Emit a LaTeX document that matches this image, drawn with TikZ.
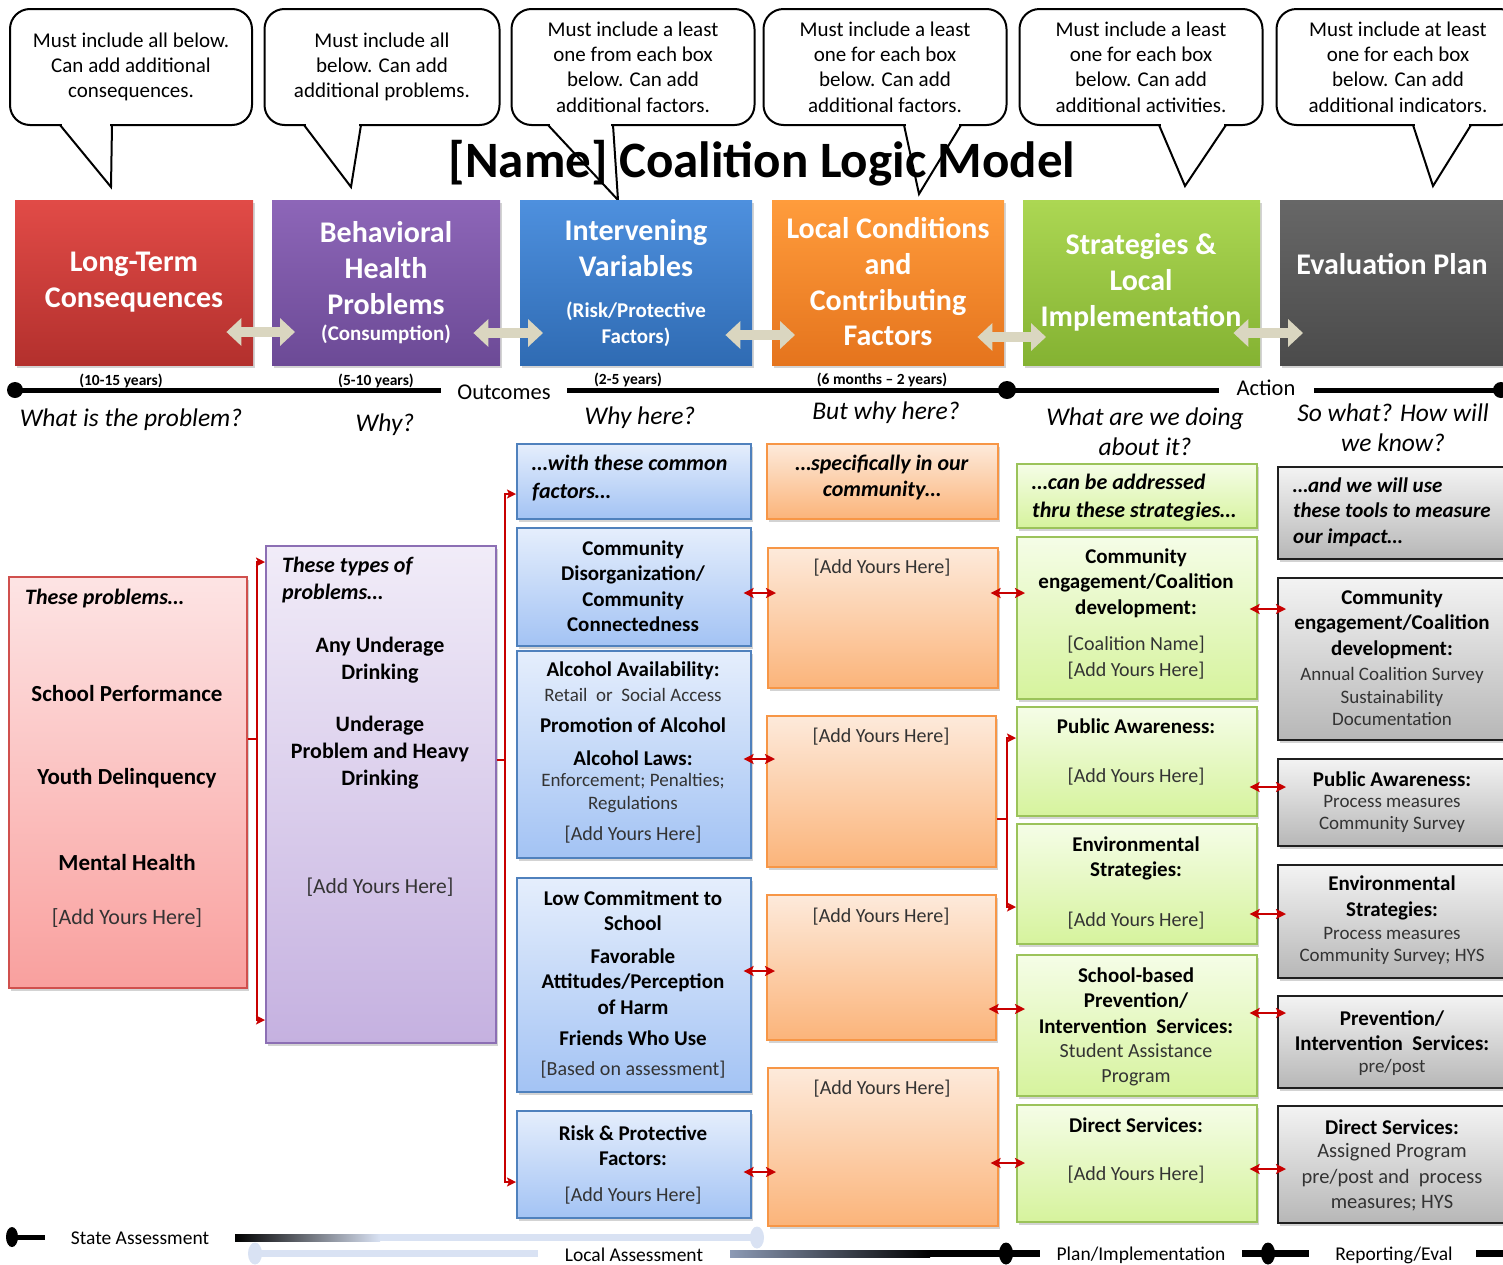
\documentclass[tikz,border=0pt]{standalone}
\usepackage{fontspec}
\setmainfont{Carlito}
\usetikzlibrary{arrows.meta,shadows}

\definecolor{hRedT}{HTML}{E14B47}\definecolor{hRedB}{HTML}{B3302D}
\definecolor{hPurT}{HTML}{8D66B8}\definecolor{hPurB}{HTML}{6C4A96}
\definecolor{hBluT}{HTML}{4E90DE}\definecolor{hBluB}{HTML}{2F6BB3}
\definecolor{hOrnT}{HTML}{FF9C3C}\definecolor{hOrnB}{HTML}{E5741D}
\definecolor{hGrnT}{HTML}{ACD753}\definecolor{hGrnB}{HTML}{84B232}
\definecolor{hGryT}{HTML}{676767}\definecolor{hGryB}{HTML}{4B4B4B}
\definecolor{cRedT}{HTML}{FDE4E4}\definecolor{cRedB}{HTML}{F9A09E}\definecolor{cRedL}{HTML}{D0504D}
\definecolor{cPurT}{HTML}{F1ECF8}\definecolor{cPurB}{HTML}{C5B1E0}\definecolor{cPurL}{HTML}{8C6FB4}
\definecolor{cBluT}{HTML}{E5EEFC}\definecolor{cBluB}{HTML}{A3C3F4}\definecolor{cBluL}{HTML}{4F81BD}
\definecolor{cOrnT}{HTML}{FDEADB}\definecolor{cOrnB}{HTML}{FBB47A}\definecolor{cOrnL}{HTML}{F79646}
\definecolor{cGrnT}{HTML}{F5FDE7}\definecolor{cGrnB}{HTML}{D6F39D}\definecolor{cGrnL}{HTML}{9BC35A}
\definecolor{cGryT}{HTML}{F3F3F3}\definecolor{cGryB}{HTML}{B7B7B7}\definecolor{cGryL}{HTML}{1F1F1F}
\definecolor{arrRed}{HTML}{C80000}
\definecolor{arrBeige}{HTML}{DAD6C0}
\definecolor{barLt}{HTML}{D9E2F3}
\definecolor{barMd}{HTML}{8C9AB5}

\tikzset{
  callout/.style={draw=black, line width=2, fill=white, rounded corners=20,
    minimum width=242, minimum height=116, align=center, inner sep=0,
    font=\fontsize{21}{25.3}\selectfont},
  calltail/.style={draw=black, line width=2, line join=miter},
  shadowed/.style={drop shadow={shadow xshift=2pt, shadow yshift=-3pt, opacity=.35}},
  hdrbox/.style={anchor=north west, minimum height=165, inner sep=0, shadowed},
  hdrtxt/.style={text=white, font=\fontsize{30}{36}\selectfont\bfseries, align=center, inner sep=0},
  hdrsub/.style={text=white, font=\fontsize{21}{26}\selectfont\bfseries, align=center, inner sep=0},
  beigearr/.style={draw=arrBeige, line width=10,
    {Triangle[length=15pt,width=27pt]}-{Triangle[length=15pt,width=27pt]},
    shorten <=-27pt, shorten >=-23pt, shadowed},
  tline/.style={draw=black, line width=5},
  yrtxt/.style={font=\fontsize{15.5}{18}\selectfont\bfseries, inner sep=0},
  linetxt/.style={font=\fontsize{22.5}{25}\selectfont, inner sep=0},
  qtxt/.style={font=\fontsize{25.5}{30}\selectfont\itshape, align=center, inner sep=0},
  colbox/.style={anchor=north west, inner sep=0, line width=1.6, shadowed},
  redcol/.style={colbox, draw=cRedL, top color=cRedT, bottom color=cRedB},
  purcol/.style={colbox, draw=cPurL, top color=cPurT, bottom color=cPurB},
  blucol/.style={colbox, draw=cBluL, top color=cBluT, bottom color=cBluB},
  orncol/.style={colbox, draw=cOrnL, top color=cOrnT, bottom color=cOrnB},
  grncol/.style={colbox, draw=cGrnL, top color=cGrnT, bottom color=cGrnB},
  grycol/.style={colbox, draw=cGryL, top color=cGryT, bottom color=cGryB},
  tb/.style={font=\fontsize{21}{25.5}\selectfont\bfseries, align=center, inner sep=0},
  tr/.style={font=\fontsize{20}{25.5}\selectfont, text=black!80, align=center, inner sep=0},
  ts/.style={font=\fontsize{19}{22.5}\selectfont, text=black!80, align=center, inner sep=0},
  ti/.style={font=\fontsize{22}{27}\selectfont\bfseries\itshape, align=left, inner sep=0},
  tbl/.style={font=\fontsize{23}{28}\selectfont\bfseries, align=center, inner sep=0},
  trl/.style={font=\fontsize{22}{27}\selectfont, text=black!80, align=center, inner sep=0},
  tbp/.style={font=\fontsize{22}{27}\selectfont\bfseries, align=center, inner sep=0},
  redline/.style={draw=arrRed, line width=2.8},
  redboth/.style={redline, {Stealth[length=10pt,width=10pt,inset=2pt]}-{Stealth[length=10pt,width=10pt,inset=2pt]},
    shorten <=-8pt, shorten >=-9pt},
  redbrk/.style={redline, {Stealth[length=9pt,width=9pt,inset=2pt]}-{Stealth[length=9pt,width=9pt,inset=2pt]}},
  btxt/.style={font=\fontsize{19.5}{22}\selectfont, inner sep=0}
}

\begin{document}
\begin{tikzpicture}[x=1pt,y=-1pt]
\useasboundingbox (0,0) rectangle (1503,1264);

% title
\node[font=\fontsize{51}{58}\selectfont\bfseries, inner sep=0] (title) at (762,163) {[Name] Coalition Logic Model};

% callouts
\node[callout] (c1) at (131,67) {Must include all below.\\Can add additional\\consequences.};
\node[callout, minimum width=235] (c2) at (382,67) {Must include all\\below. Can add\\additional problems.};
\node[callout, minimum width=243] (c3) at (633,67) {Must include a least\\one from each box\\below. Can add\\additional factors.};
\node[callout, minimum width=243] (c4) at (885,67) {Must include a least\\one for each box\\below. Can add\\additional factors.};
\node[callout, minimum width=243] (c5) at (1141,67) {Must include a least\\one for each box\\below. Can add\\additional activities.};
\node[callout, minimum width=243] (c6) at (1398,67) {Must include at least\\one for each box\\below. Can add\\additional indicators.};
\draw[white, line width=3] (62,125) -- (110,125);
\draw[calltail] (60,125) -- (111,187) -- (112,125);
\draw[white, line width=3] (306,125) -- (359,125);
\draw[calltail] (304,125) -- (351,187) -- (361,125);
\draw[white, line width=3] (550,125) -- (611,125);
\draw[calltail] (548,125) -- (618,200) -- (613,125);
\draw[white, line width=3] (906,125) -- (959,125);
\draw[calltail] (904,125) -- (919,194) -- (961,125);
\draw[white, line width=3] (1161,125) -- (1224,125);
\draw[calltail] (1159,125) -- (1185,186) -- (1226,125);
\draw[white, line width=3] (1415,125) -- (1469,125);
\draw[calltail] (1413,125) -- (1433,186) -- (1471,125);

% header boxes
\node[hdrbox, minimum width=238, top color=hRedT, bottom color=hRedB] (h1) at (15,200) {};
\node[hdrbox, minimum width=228, top color=hPurT, bottom color=hPurB] (h2) at (272,200) {};
\node[hdrbox, minimum width=232, top color=hBluT, bottom color=hBluB] (h3) at (520,200) {};
\node[hdrbox, minimum width=232, top color=hOrnT, bottom color=hOrnB] (h4) at (772,200) {};
\node[hdrbox, minimum width=237, top color=hGrnT, bottom color=hGrnB] (h5) at (1023,200) {};
\node[hdrbox, minimum width=226, top color=hGryT, bottom color=hGryB] (h6) at (1280,200) {};
\node[hdrtxt] (h1t) at (134,282) {Long-Term\\Consequences};
\node[hdrtxt] (h2t) at (386,268) {Behavioral\\Health\\Problems};
\node[hdrsub] (h2s) at (386,334) {(Consumption)};
\node[hdrtxt] (h3t) at (636,248) {Intervening\\Variables};
\node[hdrsub] (h3s) at (636,324) {(Risk/Protective\\Factors)};
\node[hdrtxt, font=\fontsize{30}{35.7}\selectfont\bfseries] (h4t) at (888,282) {Local Conditions\\and\\Contributing\\Factors};
\node[hdrtxt] (h5t) at (1141,282) {Strategies \&\\Local\\Implementation};
\node[hdrtxt] (h6t) at (1392,264) {Evaluation Plan};
\draw[beigearr] (h1.east |- 0,332) -- (h2.west |- 0,332);
\draw[beigearr] (h2.east |- 0,333) -- (h3.west |- 0,333);
\draw[beigearr] (h3.east |- 0,335) -- (h4.west |- 0,335);
\draw[beigearr] (h4.east |- 0,337) -- (h5.west |- 0,337);
\draw[beigearr] (h5.east |- 0,333) -- (h6.west |- 0,333);

% timeline
\draw[tline] (15,390) -- (441,390);
\draw[tline] (567,390) -- (1219,390);
\draw[tline] (1314,390) -- (1503,390);
\fill (15,390) circle[radius=8pt];
\fill (1007,390) circle[radius=9pt];
\fill (1501,390) circle[radius=8pt];
\node[linetxt] (outc) at (504,392) {Outcomes};
\node[linetxt] (actn) at (1266,388) {Action};
\node[yrtxt] (yr1) at (121,381) {(10-15 years)};
\node[yrtxt] (yr2) at (376,381) {(5-10 years)};
\node[yrtxt] (yr3) at (628,380) {(2-5 years)};
\node[yrtxt] (yr4) at (882,380) {(6 months -- 2 years)};
\node[qtxt] (q1) at (131,420) {What is the problem?};
\node[qtxt] (q2) at (385,425) {Why?};
\node[qtxt] (q3) at (640,418) {Why here?};
\node[qtxt] (q4) at (886,413) {But why here?};
\node[qtxt] (q5) at (1145,432) {What are we doing\\about it?};
\node[qtxt] (q6) at (1393,428) {So what? How will\\we know?};

% consequences column
\node[redcol, minimum width=238, minimum height=411] (lt) at (8,576) {};
\node[ti] (lth) at (25,598) [anchor=west] {These problems…};
\node[tbl] (lt1) at (127,694) {School Performance};
\node[tbl] (lt2) at (127,778) {Youth Delinquency};
\node[tbl] (lt3) at (127,862) {Mental Health};
\node[trl] (lt4) at (127,918) {[Add Yours Here]};

% problems column
\node[purcol, minimum width=230, minimum height=497] (bh) at (265,545) {};
\node[ti, anchor=west] (bhh) at (282,580) {These types of\\problems…};
\node[tbp] (bh1) at (380,660) {Any Underage\\Drinking};
\node[tbp] (bh2) at (380,753) {Underage\\Problem and Heavy\\Drinking};
\node[trl, font=\fontsize{21.5}{27}\selectfont] (bh3) at (380,887) {[Add Yours Here]};

% intervening variables column
\node[blucol, minimum width=234, minimum height=75] (b0) at (516,443) {};
\node[ti, anchor=west, font=\fontsize{22}{28}\selectfont\bfseries\itshape] (b0t) at (532,478) {…with these common\\factors…};
\node[blucol, minimum width=234, minimum height=118] (b1) at (516,527) {};
\node[tb] (b1t) at (633,586) {Community\\Disorganization/\\Community\\Connectedness};
\node[blucol, minimum width=234, minimum height=207] (b2) at (516,650) {};
\node[tb] (b2a) at (633,671) {Alcohol Availability:};
\node[ts] (b2b) at (633,695) {Retail~~or~~Social Access};
\node[tb] (b2c) at (633,725) {Promotion of Alcohol};
\node[tb] (b2d) at (633,758) {Alcohol Laws:};
\node[ts] (b2e) at (633,793) {Enforcement; Penalties;\\Regulations};
\node[tr] (b2f) at (633,835) {[Add Yours Here]};
\node[blucol, minimum width=234, minimum height=214] (b3) at (516,877) {};
\node[tb] (b3a) at (633,910.5) {Low Commitment to\\School};
\node[tb] (b3b) at (633,981.5) {Favorable\\Attitudes/Perception\\of Harm};
\node[tb] (b3c) at (633,1038) {Friends Who Use};
\node[tr] (b3d) at (633,1070) {[Based on assessment]};
\node[blucol, minimum width=234, minimum height=107] (b4) at (516,1110) {};
\node[tb] (b4a) at (633,1145.5) {Risk \& Protective\\Factors:};
\node[tr] (b4b) at (633,1196) {[Add Yours Here]};

% local conditions column
\node[orncol, minimum width=231, minimum height=75] (o0) at (766,443) {};
\node[ti, align=center, font=\fontsize{22}{26}\selectfont\bfseries\itshape] (o0t) at (882,477) {…specifically in our\\community…};
\node[orncol, minimum width=230, minimum height=140] (o1) at (767,547) {};
\node[tr] (o1t) at (882,568) {[Add Yours Here]};
\node[orncol, minimum width=229, minimum height=151] (o2) at (766,715) {};
\node[tr] (o2t) at (881,737) {[Add Yours Here]};
\node[orncol, minimum width=229, minimum height=145] (o3) at (766,894) {};
\node[tr] (o3t) at (881,917) {[Add Yours Here]};
\node[orncol, minimum width=230, minimum height=158] (o4) at (767,1067) {};
\node[tr] (o4t) at (882,1089) {[Add Yours Here]};

% strategies column
\node[grncol, minimum width=240, minimum height=64] (g0) at (1016,463) {};
\node[ti, anchor=west, font=\fontsize{22}{28}\selectfont\bfseries\itshape] (g0t) at (1032,498) {…can be addressed\\thru these strategies…};
\node[grncol, minimum width=240, minimum height=162] (g1) at (1016,536) {};
\node[tb] (g1a) at (1136,583) {Community\\engagement/Coalition\\development:};
\node[tr] (g1b) at (1136,657.5) {{[Coalition Name]}\\{[Add Yours Here]}};
\node[grncol, minimum width=240, minimum height=109] (g2) at (1016,706) {};
\node[tb] (g2a) at (1136,726) {Public Awareness:};
\node[tr] (g2b) at (1136,777) {[Add Yours Here]};
\node[grncol, minimum width=240, minimum height=120] (g3) at (1016,823) {};
\node[tb] (g3a) at (1136,858.5) {Environmental\\Strategies:};
\node[tr] (g3b) at (1136,921) {[Add Yours Here]};
\node[grncol, minimum width=240, minimum height=141] (g4) at (1016,954) {};
\node[tb] (g4a) at (1136,1000.5) {School-based\\Prevention/\\Intervention\ \ Services:};
\node[tr, font=\fontsize{20}{25}\selectfont] (g4b) at (1136,1064.5) {Student Assistance\\Program};
\node[grncol, minimum width=240, minimum height=117] (g5) at (1016,1104) {};
\node[tb] (g5a) at (1136,1125) {Direct Services:};
\node[tr] (g5b) at (1136,1175) {[Add Yours Here]};

% evaluation column
\node[grycol, minimum width=232, minimum height=92] (e0) at (1277,466) {};
\node[ti, anchor=west, font=\fontsize{21}{25.5}\selectfont\bfseries\itshape] (e0t) at (1293,512) {…and we will use\\these tools to measure\\our impact…};
\node[grycol, minimum width=232, minimum height=162] (e1) at (1277,577) {};
\node[tb] (e1a) at (1392,624) {Community\\engagement/Coalition\\development:};
\node[ts] (e1b) at (1392,696.5) {Annual Coalition Survey\\Sustainability\\Documentation};
\node[grycol, minimum width=232, minimum height=87] (e2) at (1277,758) {};
\node[tb] (e2a) at (1392,779) {Public Awareness:};
\node[ts] (e2b) at (1392,814) {Process measures\\Community Survey};
\node[grycol, minimum width=232, minimum height=113] (e3) at (1277,864) {};
\node[tb] (e3a) at (1392,898) {Environmental\\Strategies:};
\node[ts] (e3b) at (1392,946) {Process measures\\Community Survey; HYS};
\node[grycol, minimum width=232, minimum height=92] (e4) at (1277,995) {};
\node[tb] (e4a) at (1392,1030.5) {Prevention/\\Intervention\ \ Services:};
\node[ts] (e4b) at (1392,1067) {pre/post};
\node[grycol, minimum width=232, minimum height=117] (e5) at (1277,1105) {};
\node[tb] (e5a) at (1392,1127) {Direct Services:};
\node[tr, font=\fontsize{20.5}{25.5}\selectfont] (e5b) at (1392,1177.5) {Assigned Program\\pre/post and\ \ process\\measures; HYS};

% brackets
\coordinate (k1) at (257,739);
\coordinate (k2) at (505,760);
\coordinate (k3) at (1007,819);
\draw[redline] (lt.east |- k1) -- (k1);
\draw[redbrk] (bh.west |- 0,562) -| (k1) |- (bh.west |- 0,1020);
\draw[redline] (bh.east |- k2) -- (k2);
\draw[redbrk] (b0.west |- 0,494) -| (k2) |- (b4.west |- 0,1182);
\draw[redline] (o2.east |- k3) -- (k3);
\draw[redbrk] (g2.west |- 0,738) -| (k3) |- (g3.west |- 0,907);

% red links
\draw[redboth] (b1.east |- 0,593) -- (o1.west |- 0,593);
\draw[redboth] (b2.east |- 0,759) -- (o2.west |- 0,759);
\draw[redboth] (b3.east |- 0,971) -- (o3.west |- 0,971);
\draw[redboth] (b4.east |- 0,1172) -- (o4.west |- 0,1172);
\draw[redboth] (o1.east |- 0,593) -- (g1.west |- 0,593);
\draw[redboth] (o3.east |- 0,1009) -- (g4.west |- 0,1009);
\draw[redboth] (o4.east |- 0,1163) -- (g5.west |- 0,1163);
\draw[redboth] (g1.east |- 0,609) -- (e1.west |- 0,609);
\draw[redboth] (g2.east |- 0,787) -- (e2.west |- 0,787);
\draw[redboth] (g3.east |- 0,914) -- (e3.west |- 0,914);
\draw[redboth] (g4.east |- 0,1013) -- (e4.west |- 0,1013);
\draw[redboth] (g5.east |- 0,1169) -- (e5.west |- 0,1169);

% assessment bar
\fill (12,1237) ellipse[x radius=6pt, y radius=10pt];
\fill (12,1234.5) rectangle (45,1239.5);
\node[btxt] (sa) at (140,1238) {State Assessment};
\shade[left color=black, right color=barLt] (235,1234) rectangle (380,1241);
\fill[barLt] (380,1234) rectangle (757,1241);
\fill[barLt] (757,1237.5) ellipse[x radius=7pt, y radius=11pt];
\fill[barLt] (255,1253.5) ellipse[x radius=7pt, y radius=11pt];
\fill[barLt] (255,1250) rectangle (538,1257);
\node[btxt] (la) at (634,1255) {Local Assessment};
\shade[left color=barMd, right color=black] (730,1250) rectangle (930,1257);
\fill (930,1250) rectangle (1040,1257);
\fill (1006,1253.5) ellipse[x radius=7pt, y radius=11pt];
\node[btxt] (pi) at (1141,1255) {Plan/Implementation};
\fill (1242,1250) rectangle (1309,1257);
\fill (1268,1253.5) ellipse[x radius=7pt, y radius=11pt];
\node[btxt] (re) at (1394,1255) {Reporting/Eval};
\fill (1476,1250) rectangle (1503,1257);
\end{tikzpicture}
\end{document}
